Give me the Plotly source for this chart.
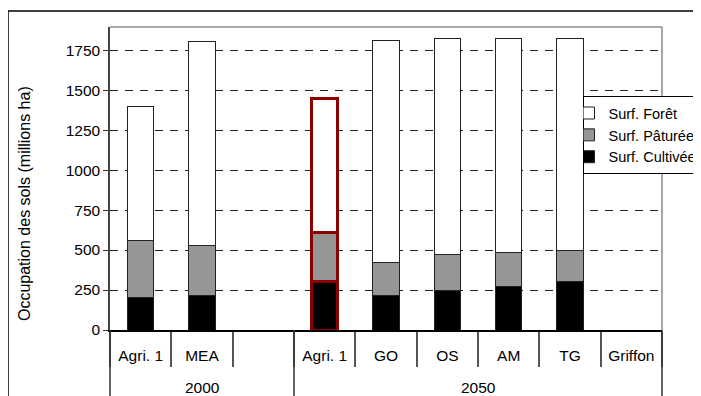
import plotly.graph_objects as go

groups = ["2000", "2000", "2000", "2050", "2050", "2050", "2050", "2050", "2050"]
scenarios = ["Agri. 1", "MEA", "", "Agri. 1", "GO", "OS", "AM", "TG", "Griffon"]

surf_cultivee = [205, 217, None, 305, 217, 246, 275, 304, None]
surf_pituree = [355, 312, None, 303, 208, 229, 212, 196, None]
surf_foret = [840, 1275, None, 837, 1387, 1346, 1338, 1325, None]

y_ticks = [0, 250, 500, 750, 1000, 1250, 1500, 1750]
y_title = "Occupation des sols (millions ha)"

highlight = [False, False, False, True, False, False, False, False, False]

FONT = "Arial, Liberation Sans, sans-serif"
N = len(scenarios)
idx = list(range(N))

line_colors = ["#8b0000" if h else "#222222" for h in highlight]
line_widths = [3 if h else 1 for h in highlight]

fig = go.Figure()
series = [
    ("Surf. Cultivée", surf_cultivee, "#000000"),
    ("Surf. Pâturée", surf_pituree, "#969696"),
    ("Surf. Forêt", surf_foret, "#ffffff"),
]
for name, vals, col in series:
    fig.add_trace(go.Bar(
        x=idx, y=vals, name=name, width=0.43,
        marker=dict(color=col, line=dict(color=line_colors, width=line_widths)),
    ))

# group spans (boundaries and centres) derived from the groups list
group_spans = []
start = 0
for i in range(1, N + 1):
    if i == N or groups[i] != groups[start]:
        group_spans.append((groups[start], start, i - 1))
        start = i

def to_paper(v):
    return (v + 0.5) / N

shapes = [
    dict(type="rect", xref="paper", yref="paper",
         x0=-0.1848, x1=1.5, y0=-0.4, y1=1.0528,
         line=dict(color="#000000", width=1.5), layer="below"),
    dict(type="line", xref="paper", yref="paper",
         x0=0, x1=1, y0=1, y1=1,
         line=dict(color="#a8a8a8", width=2)),
    dict(type="line", xref="paper", yref="paper",
         x0=1, x1=1, y0=0, y1=1,
         line=dict(color="#8a8a8a", width=1.5)),
]
bounds = sorted({s for _, s, _ in group_spans} | {e + 1 for _, _, e in group_spans})
for b in bounds:
    xp = to_paper(b - 0.5)
    shapes.append(dict(type="line", xref="paper", yref="paper",
                       x0=xp, x1=xp, y0=0, y1=-0.4,
                       line=dict(color="#333333", width=1.5)))

annotations = []
for name, s, e in group_spans:
    annotations.append(dict(
        x=(s + e) / 2, xref="x", y=-0.191, yref="paper",
        text=name, showarrow=False, xanchor="center", yanchor="middle",
        font=dict(family=FONT, size=15.5, color="#000000"),
    ))
annotations.append(dict(
    x=-0.1558, xref="paper", y=0.419, yref="paper",
    text=y_title, textangle=-90, showarrow=False,
    xanchor="center", yanchor="middle",
    font=dict(family=FONT, size=16, color="#000000"),
))

W = 760
H = 388
fig.update_layout(
    width=W, height=H,
    margin=dict(l=102, r=W - 102 - 552, t=19, b=H - 19 - 303),
    barmode="stack",
    paper_bgcolor="white", plot_bgcolor="white",
    font=dict(family=FONT, size=15.5, color="#000000"),
    showlegend=True,
    legend=dict(
        x=0.856, y=0.772, xanchor="left", yanchor="top",
        traceorder="reversed",
        bgcolor="white", bordercolor="#000000", borderwidth=1,
        font=dict(family=FONT, size=14.5, color="#000000"),
        indentation=-15,
        tracegroupgap=0,
    ),
    shapes=shapes,
    annotations=annotations,
)

fig.update_yaxes(
    range=[0, 1895],
    tickvals=y_ticks,
    ticks="outside", ticklen=5, tickcolor="#333333",
    showline=True, linecolor="#444444", linewidth=1.5,
    showgrid=True, gridcolor="#222222", gridwidth=1, griddash="8px,7px",
    zeroline=False,
    tickfont=dict(size=15.5),
)

fig.update_xaxes(
    range=[-0.5, N - 0.5],
    tickmode="array", tickvals=idx, ticktext=scenarios,
    showline=True, linecolor="#000000", linewidth=1.5,
    showgrid=False, zeroline=False,
    ticks="",
    minor=dict(tickmode="array", tickvals=[i - 0.5 for i in range(N + 1)],
               ticks="outside", ticklen=35, tickcolor="#555555", tickwidth=1.5,
               showgrid=False),
    tickfont=dict(size=15.5),
    ticklabelstandoff=11,
)

fig.write_html(
    "out.html",
    post_script="document.documentElement.style.overflow='hidden';document.body.style.overflow='hidden';",
)
